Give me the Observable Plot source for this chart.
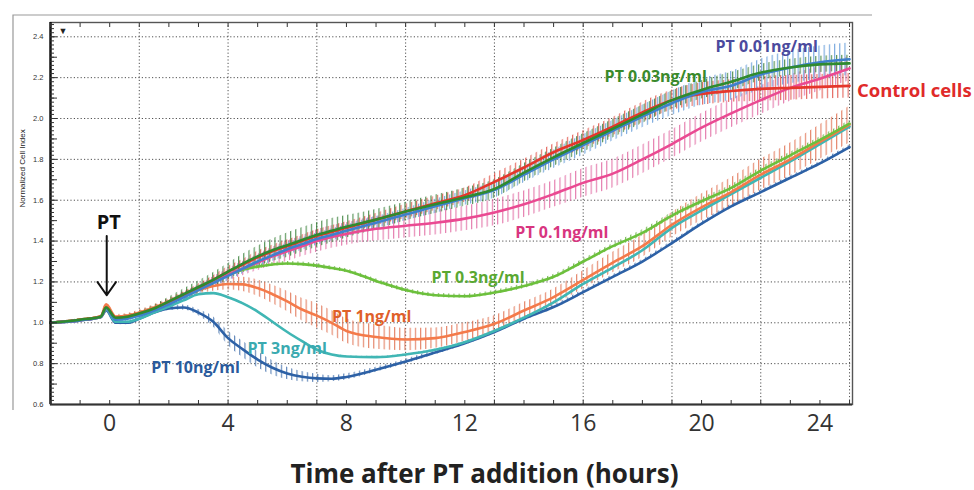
<!DOCTYPE html>
<html>
<head>
<meta charset="utf-8">
<script src="https://cdn.jsdelivr.net/npm/d3@7"></script>
<script src="https://cdn.jsdelivr.net/npm/@observablehq/plot@0.6"></script>
<style>
  html, body { margin: 0; padding: 0; background: #fff; }
  #chart svg { display: block; }
</style>
</head>
<body>
<div id="chart"></div>
<script>
// ---------- data ----------
const hours = [-2, -1, -0.3, -0.12, 0.2, 0.6, 1, 1.5, 2, 2.5, 3, 3.5, 4, 4.5, 5, 5.5, 6, 6.5, 7, 7.5, 8, 9, 10, 11, 12, 13, 14, 15, 16, 17, 18, 19, 20, 21, 22, 23, 24, 25];

const control = [1.00, 1.015, 1.03, 1.075, 1.025, 1.03, 1.045, 1.07, 1.10, 1.135, 1.17, 1.21, 1.25, 1.285, 1.32, 1.35, 1.375, 1.40, 1.425, 1.445, 1.465, 1.505, 1.545, 1.585, 1.625, 1.69, 1.76, 1.835, 1.895, 1.96, 2.03, 2.09, 2.12, 2.135, 2.145, 2.15, 2.155, 2.16];
const pt001 = [1.00, 1.012, 1.028, 1.07, 1.015, 1.02, 1.035, 1.06, 1.09, 1.125, 1.16, 1.195, 1.23, 1.265, 1.30, 1.33, 1.36, 1.385, 1.41, 1.43, 1.45, 1.49, 1.53, 1.57, 1.61, 1.65, 1.725, 1.80, 1.87, 1.94, 2.01, 2.075, 2.13, 2.16, 2.215, 2.25, 2.275, 2.29];
const pt003 = [1.00, 1.015, 1.03, 1.075, 1.025, 1.03, 1.045, 1.07, 1.105, 1.14, 1.175, 1.21, 1.25, 1.29, 1.325, 1.355, 1.38, 1.405, 1.43, 1.45, 1.47, 1.505, 1.545, 1.58, 1.615, 1.655, 1.735, 1.81, 1.88, 1.95, 2.02, 2.09, 2.14, 2.18, 2.225, 2.25, 2.265, 2.27];
const pt01 = [1.00, 1.012, 1.028, 1.07, 1.02, 1.025, 1.04, 1.065, 1.095, 1.13, 1.165, 1.20, 1.235, 1.265, 1.295, 1.325, 1.35, 1.375, 1.40, 1.42, 1.435, 1.46, 1.475, 1.49, 1.51, 1.54, 1.58, 1.63, 1.685, 1.73, 1.80, 1.875, 1.955, 2.025, 2.09, 2.15, 2.195, 2.245];
const pt03 = [1.00, 1.015, 1.03, 1.075, 1.025, 1.03, 1.045, 1.07, 1.10, 1.135, 1.17, 1.205, 1.235, 1.26, 1.275, 1.285, 1.29, 1.287, 1.28, 1.268, 1.255, 1.205, 1.16, 1.135, 1.13, 1.148, 1.18, 1.225, 1.30, 1.375, 1.44, 1.525, 1.595, 1.66, 1.745, 1.82, 1.895, 1.975];
const pt1 = [1.00, 1.015, 1.032, 1.09, 1.03, 1.035, 1.05, 1.075, 1.105, 1.135, 1.16, 1.18, 1.19, 1.188, 1.17, 1.14, 1.105, 1.065, 1.035, 1.0, 0.96, 0.93, 0.918, 0.925, 0.955, 0.995, 1.06, 1.126, 1.21, 1.295, 1.375, 1.48, 1.565, 1.64, 1.725, 1.80, 1.885, 1.97];
const pt3 = [1.00, 1.012, 1.028, 1.065, 1.005, 1.005, 1.02, 1.05, 1.08, 1.11, 1.14, 1.145, 1.125, 1.095, 1.055, 1.005, 0.955, 0.91, 0.868, 0.845, 0.835, 0.832, 0.845, 0.868, 0.905, 0.96, 1.025, 1.10, 1.19, 1.27, 1.355, 1.465, 1.55, 1.63, 1.71, 1.79, 1.875, 1.96];
const pt10 = [1.00, 1.012, 1.028, 1.06, 1.0, 1.0, 1.02, 1.05, 1.07, 1.075, 1.05, 1.005, 0.925, 0.87, 0.82, 0.78, 0.752, 0.736, 0.728, 0.726, 0.735, 0.77, 0.81, 0.855, 0.90, 0.955, 1.02, 1.077, 1.15, 1.225, 1.30, 1.39, 1.485, 1.57, 1.64, 1.71, 1.78, 1.86];

// error (± half-length of the error bars)
const sdControl = [0.005, 0.005, 0.005, 0.005, 0.008, 0.01, 0.01, 0.012, 0.015, 0.015, 0.02, 0.02, 0.025, 0.025, 0.03, 0.03, 0.03, 0.03, 0.03, 0.03, 0.03, 0.03, 0.035, 0.035, 0.035, 0.04, 0.04, 0.04, 0.045, 0.045, 0.05, 0.05, 0.055, 0.055, 0.06, 0.06, 0.06, 0.06];
const sd001 = [0.005, 0.005, 0.005, 0.005, 0.008, 0.01, 0.01, 0.012, 0.015, 0.015, 0.02, 0.02, 0.025, 0.025, 0.03, 0.03, 0.03, 0.03, 0.03, 0.03, 0.03, 0.03, 0.03, 0.035, 0.035, 0.04, 0.04, 0.045, 0.05, 0.05, 0.055, 0.06, 0.065, 0.07, 0.075, 0.08, 0.08, 0.08];
const sd003 = [0.005, 0.005, 0.005, 0.005, 0.008, 0.01, 0.012, 0.015, 0.02, 0.025, 0.03, 0.035, 0.04, 0.045, 0.05, 0.055, 0.06, 0.06, 0.06, 0.06, 0.055, 0.05, 0.045, 0.045, 0.045, 0.045, 0.045, 0.045, 0.045, 0.045, 0.045, 0.045, 0.045, 0.045, 0.04, 0.04, 0.04, 0.04];
const sd01 = [0.005, 0.005, 0.005, 0.005, 0.008, 0.01, 0.01, 0.012, 0.015, 0.02, 0.02, 0.025, 0.03, 0.035, 0.04, 0.045, 0.05, 0.05, 0.055, 0.055, 0.055, 0.06, 0.06, 0.06, 0.06, 0.065, 0.065, 0.065, 0.07, 0.07, 0.07, 0.07, 0.07, 0.07, 0.07, 0.065, 0.06, 0.06];
const sd03 = [0.005, 0.005, 0.005, 0.005, 0.006, 0.008, 0.008, 0.008, 0.01, 0.01, 0.01, 0.01, 0.01, 0.01, 0.01, 0.01, 0.01, 0.01, 0.01, 0.01, 0.01, 0.01, 0.01, 0.01, 0.01, 0.01, 0.012, 0.012, 0.012, 0.012, 0.015, 0.015, 0.015, 0.015, 0.015, 0.015, 0.015, 0.015];
const sd1 = [0.005, 0.005, 0.005, 0.008, 0.01, 0.01, 0.012, 0.015, 0.015, 0.02, 0.02, 0.025, 0.03, 0.035, 0.04, 0.045, 0.05, 0.055, 0.06, 0.06, 0.06, 0.06, 0.055, 0.05, 0.045, 0.04, 0.04, 0.04, 0.045, 0.05, 0.055, 0.06, 0.065, 0.07, 0.075, 0.08, 0.085, 0.09];
const sd3 = [0.004, 0.004, 0.004, 0.004, 0.004, 0.004, 0.004, 0.004, 0.004, 0.004, 0.004, 0.004, 0.004, 0.004, 0.004, 0.004, 0.004, 0.004, 0.004, 0.004, 0.004, 0.004, 0.004, 0.004, 0.004, 0.004, 0.004, 0.004, 0.004, 0.004, 0.004, 0.004, 0.004, 0.004, 0.004, 0.004, 0.004, 0.004];
const sd10 = [0.005, 0.005, 0.005, 0.005, 0.008, 0.01, 0.01, 0.01, 0.01, 0.012, 0.015, 0.025, 0.035, 0.04, 0.04, 0.035, 0.03, 0.025, 0.02, 0.015, 0.015, 0.012, 0.012, 0.012, 0.01, 0.01, 0.01, 0.01, 0.01, 0.01, 0.01, 0.01, 0.01, 0.01, 0.01, 0.01, 0.01, 0.01];

const seriesKeys = ["pt10", "pt3", "pt1", "pt03", "pt01", "control", "pt001", "pt003"];
const seriesValues = { control, pt001, pt003, pt01, pt03, pt1, pt3, pt10 };
const seriesSd = { control: sdControl, pt001: sd001, pt003: sd003, pt01: sd01, pt03: sd03, pt1: sd1, pt3: sd3, pt10: sd10 };

// series labels (text + position in data space)
const seriesLabels = [
  { key: "pt001",   text: "PT 0.01ng/ml",  h: 22.2,  v: 2.35 },
  { key: "pt003",   text: "PT 0.03ng/ml",  h: 18.45, v: 2.205 },
  { key: "pt01",    text: "PT 0.1ng/ml",   h: 15.28, v: 1.44 },
  { key: "pt03",    text: "PT 0.3ng/ml",   h: 12.45, v: 1.222 },
  { key: "pt1",     text: "PT 1ng/ml",     h: 8.85,  v: 1.03 },
  { key: "pt3",     text: "PT 3ng/ml",     h: 6.0,   v: 0.872 },
  { key: "pt10",    text: "PT 10ng/ml",    h: 2.9,   v: 0.778 }
];
const controlLabel = [{ key: "control", text: "Control cells", h: 25.25, v: 2.135 }];
const ptNote = [{ text: "PT", h: -0.03, v: 1.49 }];
const ptArrow = [{ h: -0.1, v1: 1.425, v2: 1.135 }];

const xTickLabels = [0, 4, 8, 12, 16, 20, 24];
const yTickLabels = [0.6, 0.8, 1.0, 1.2, 1.4, 1.6, 1.8, 2.0, 2.2, 2.4];
const xTitle = "Time after PT addition (hours)";
const yTitle = "Normalized Cell Index";

// ---------- styles ----------
const lineColor = {
  control: "#e5362c", pt001: "#3f80cc", pt003: "#2f8a2f", pt01: "#ea4a92",
  pt03: "#6cc03c", pt1: "#f47a4a", pt3: "#40b6b4", pt10: "#2d61a6"
};
const hatchColor = {
  control: "#e0463c", pt001: "#5b95d6", pt003: "#2f7a2f", pt01: "#e0609c",
  pt03: "#5aa830", pt1: "#e06a48", pt3: "#40b6b4", pt10: "#3a6aa8"
};
const labelColor = {
  control: "#e02a2a", pt001: "#4b4a9e", pt003: "#3a8a2c", pt01: "#d8357f",
  pt03: "#5aa832", pt1: "#e0602a", pt3: "#3aaab0", pt10: "#2a5a9c"
};

const xDomain = [-2, 25.1];
const yDomain = [0.6, 2.47];
const xGrid = d3.range(1, 26, 3);
const yGrid = yTickLabels.slice(1);
const xMinor = d3.range(-2, 26);
const yMinor = d3.range(30, 124).map(d => d / 50);
const yMid = d3.range(6, 25).map(d => d / 10);

const rows = {};
for (const k of seriesKeys) {
  rows[k] = hours.map((h, i) => ({ key: k, h, v: seriesValues[k][i], sd: seriesSd[k][i] }));
}

const gridStyle = { stroke: "#333", strokeOpacity: 0.85, strokeDasharray: "1.2,2.2", strokeWidth: 1 };

const svg = Plot.plot({
  width: 974,
  height: 490,
  marginLeft: 50,
  marginRight: 122,
  marginTop: 22,
  marginBottom: 86,
  style: { background: "#fff", overflow: "visible" },
  x: { domain: xDomain, axis: null },
  y: { domain: yDomain, axis: null },
  marks: [
    Plot.gridY(yGrid, gridStyle),
    Plot.gridX(xGrid, gridStyle),
    ...seriesKeys.map(k => Plot.areaY(rows[k], {
      x: "h", y1: d => d.v - d.sd, y2: d => d.v + d.sd,
      fill: `url(#hatch-${k})`, curve: "monotone-x"
    })),
    ...seriesKeys.map(k => Plot.line(rows[k], {
      x: "h", y: "v", stroke: lineColor[k], strokeWidth: 2.6, curve: "monotone-x"
    })),
    Plot.frame({ stroke: "#555", strokeWidth: 1.4 }),
    Plot.ruleX([xDomain[0]], { stroke: "#111", strokeWidth: 2.4 }),
    Plot.ruleY([yDomain[0]], { stroke: "#333", strokeWidth: 1.8 }),
    // axis ticks (inward)
    Plot.axisX({ anchor: "bottom", ticks: xMinor, tickSize: -4, tickFormat: () => "", stroke: "#333", label: null }),
    Plot.axisX({ anchor: "top", ticks: xMinor, tickSize: -4, tickFormat: () => "", stroke: "#333", label: null }),
    Plot.axisY({ anchor: "left", ticks: yMinor, tickSize: -4, tickFormat: () => "", stroke: "#333", label: null }),
    Plot.axisY({ anchor: "left", ticks: yMid, tickSize: -7, tickFormat: () => "", stroke: "#333", label: null }),
    // tick labels
    Plot.axisX({ anchor: "bottom", ticks: xTickLabels, tickSize: 0, tickPadding: 10, fontSize: 23,
      fontFamily: "Open Sans", fill: "#333", label: null }),
    Plot.axisY({ anchor: "left", ticks: yTickLabels, tickSize: 0, tickPadding: 7, fontSize: 7.5,
      fontFamily: "Liberation Sans", fill: "#333", tickFormat: d3.format(".1f"), label: null }),
    // titles
    Plot.text([xTitle], { frameAnchor: "bottom", dx: 33, dy: 78, lineAnchor: "bottom", text: d => d,
      fontFamily: "Open Sans", fontWeight: "bold", fontSize: 26, fill: "#222" }),
    Plot.text([yTitle], { frameAnchor: "left", dx: -28, dy: -6, rotate: -90, text: d => d,
      fontFamily: "Liberation Sans", fontSize: 8, fill: "#222" }),
    Plot.text(["▼"], { frameAnchor: "top-left", dx: 8, dy: 5, text: d => d, fontSize: 9, fill: "#222" }),
    // annotations
    Plot.text(seriesLabels, { x: "h", y: "v", text: "text", fill: d => labelColor[d.key],
      textAnchor: "middle", fontSize: 16,
      fontFamily: "Open Sans", fontWeight: "bold", lineAnchor: "middle" }),
    Plot.text(controlLabel, { x: "h", y: "v", text: "text", fill: d => labelColor[d.key],
      textAnchor: "start", fontSize: 18.5,
      fontFamily: "Open Sans", fontWeight: "bold", lineAnchor: "middle" }),
    Plot.text(ptNote, { x: "h", y: "v", text: "text", fontFamily: "Open Sans", fontWeight: "bold",
      fontSize: 20, fill: "#111", lineAnchor: "middle" }),
    Plot.arrow(ptArrow, { x1: "h", x2: "h", y1: "v1", y2: "v2", stroke: "#111", strokeWidth: 2,
      headLength: 12, headAngle: 70 })
  ]
});

// hatch patterns = dense vertical error bars, clipped to each series' ± band
const defs = d3.select(svg).insert("defs", ":first-child");
seriesKeys.forEach((k, i) => {
  const p = defs.append("pattern")
    .attr("id", `hatch-${k}`)
    .attr("patternUnits", "userSpaceOnUse")
    .attr("x", (i * 2) % 5)
    .attr("width", 5.2)
    .attr("height", 10);
  p.append("line")
    .attr("x1", 0.6).attr("x2", 0.6).attr("y1", 0).attr("y2", 10)
    .attr("stroke", hatchColor[k]).attr("stroke-width", 1.1).attr("stroke-opacity", 0.85);
});

// thin border of the original instrument screenshot
d3.select(svg).insert("path", "defs + *")
  .attr("d", "M13,410V15H872")
  .attr("fill", "none").attr("stroke", "#999").attr("stroke-width", 1.2);

document.getElementById("chart").appendChild(svg);
</script>
</body>
</html>
